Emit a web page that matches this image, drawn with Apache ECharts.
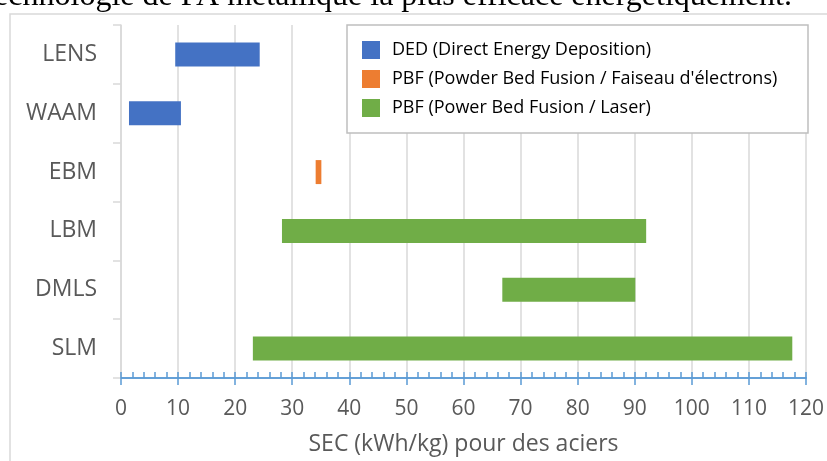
<!DOCTYPE html>
<html>
<head>
<meta charset="utf-8">
<script src="https://cdn.jsdelivr.net/npm/echarts@6/dist/echarts.min.js"></script>
<style>
html,body{margin:0;padding:0;background:#fff;}
#chart{width:827px;height:461px;}
</style>
</head>
<body>
<div id="chart"></div>
<script>
const headingText = "technologie de FA métallique la plus efficace énergétiquement.";
const categories = ['LENS', 'WAAM', 'EBM', 'LBM', 'DMLS', 'SLM'];
const rangeStart = [9.5, 1.4, 34.1, 28.2, 66.8, 23.1];
const rangeEnd = [24.3, 10.5, 35.1, 92.0, 90.1, 117.6];
const technology = ['DED', 'DED', 'EB', 'LASER', 'LASER', 'LASER'];
const seriesKeys = ['DED', 'EB', 'LASER'];
const seriesNames = ['DED (Direct Energy Deposition)', "PBF (Powder Bed Fusion / Faiseau d'électrons)", 'PBF (Power Bed Fusion / Laser)'];
const seriesColors = ['#4472C4', '#ED7D31', '#70AD47'];
const xMin = 0, xMax = 120, xInterval = 10;
const xAxisName = 'SEC (kWh/kg) pour des aciers';

const chart = echarts.init(document.getElementById('chart'), null, {renderer: 'canvas'});
const FONT = 'Open Sans';
const AXIS_BLUE = '#5B9BD5';

const rangeSeries = seriesKeys.map((key, k) => ({
  name: seriesNames[k],
  type: 'bar',
  stack: 'range',
  barWidth: 24,
  xAxisIndex: 0,
  itemStyle: {color: seriesColors[k]},
  data: categories.map((c, i) => technology[i] === key ? +(rangeEnd[i] - rangeStart[i]).toFixed(2) : '-')
}));

const option = {
  backgroundColor: '#fff',
  animation: false,
  grid: {left: 121, right: 20, top: 25, bottom: 80, containLabel: false},
  legend: {
    orient: 'vertical',
    left: 362, top: 41, padding: 0,
    itemWidth: 18, itemHeight: 18, itemGap: 11,
    icon: 'rect',
    data: seriesNames,
    textStyle: {fontFamily: FONT, fontSize: 18, color: '#000', padding: [0, 0, 0, 7]},
    z: 6
  },
  xAxis: [{
    type: 'value', min: xMin, max: xMax, interval: xInterval,
    position: 'bottom',
    name: xAxisName, nameLocation: 'middle', nameGap: 55,
    nameTextStyle: {fontFamily: FONT, fontSize: 23, color: '#595959'},
    axisLine: {show: true, lineStyle: {color: AXIS_BLUE, width: 1.5}},
    axisTick: {show: true, inside: false, length: 7, lineStyle: {color: AXIS_BLUE, width: 1.5}},
    axisLabel: {fontFamily: FONT, fontSize: 21, color: '#595959', margin: 21},
    splitLine: {show: true, lineStyle: {color: '#d9d9d9', width: 1.5}}
  }, {
    type: 'value', min: xMin, max: xMax, interval: xInterval,
    position: 'bottom', offset: 0,
    axisLine: {show: true, lineStyle: {color: AXIS_BLUE, width: 1.5}},
    axisTick: {show: true, inside: true, length: 6, lineStyle: {color: AXIS_BLUE, width: 1.5}},
    minorTick: {show: true, splitNumber: 5, length: 6, lineStyle: {color: AXIS_BLUE, width: 1.5}},
    axisLabel: {show: false},
    splitLine: {show: false}
  }],
  yAxis: {
    type: 'category', data: categories, inverse: true,
    axisLine: {show: true, lineStyle: {color: '#d9d9d9', width: 1.5}},
    axisTick: {show: true, length: 8, lineStyle: {color: '#d9d9d9', width: 1.5}},
    axisLabel: {fontFamily: FONT, fontSize: 23, color: '#595959', margin: 24},
    splitLine: {show: false}
  },
  graphic: [
    {type: 'rect', z: 0, silent: true, shape: {x: 10, y: 14, width: 840, height: 470},
     style: {fill: 'none', stroke: '#d9d9d9', lineWidth: 1.5}},
    {type: 'rect', z: 5, silent: true, shape: {x: 347, y: 25, width: 461, height: 108},
     style: {fill: '#fff', stroke: '#bfbfbf', lineWidth: 1.5}},
    {type: 'text', z: 10, silent: true, x: 792, y: -3,
     style: {text: headingText, fill: '#000', font: '32px "Liberation Serif"', textAlign: 'right', textVerticalAlign: 'middle'}}
  ],
  series: [{
    name: 'base', type: 'bar', stack: 'range', barWidth: 24, xAxisIndex: 0, silent: true,
    itemStyle: {color: 'transparent'},
    data: rangeStart
  }].concat(rangeSeries)
};
chart.setOption(option);
</script>
</body>
</html>
